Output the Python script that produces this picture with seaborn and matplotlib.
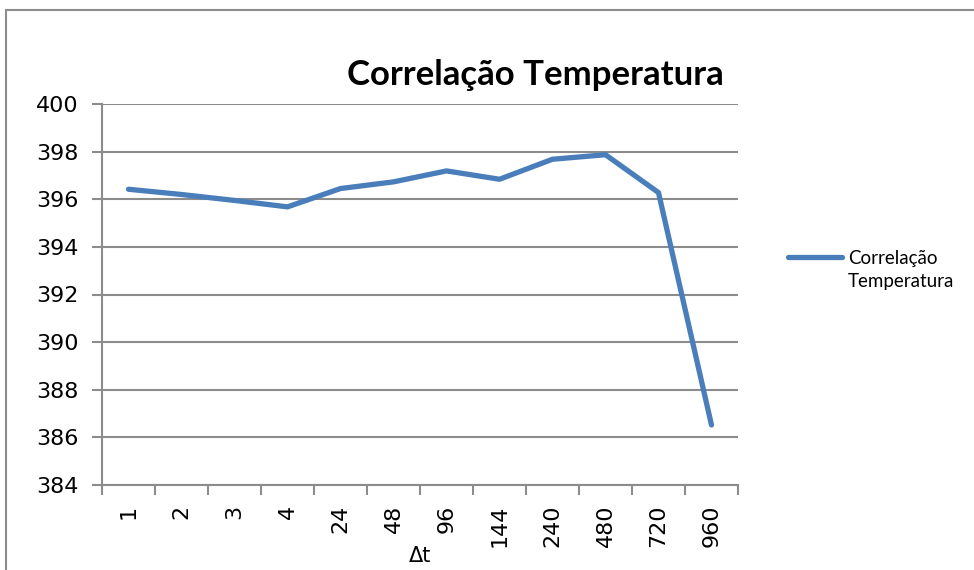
import numpy as np
import pandas as pd
import seaborn as sns
import matplotlib.pyplot as plt
from matplotlib.patches import Rectangle

# valores
delta_t = ["1", "2", "3", "4", "24", "48", "96", "144", "240", "480", "720", "960"]
correlacao = [396.42, 396.2, 395.95, 395.68, 396.45, 396.73, 397.19, 396.84,
              397.68, 397.87, 396.28, 386.52]
y_ticks = [384, 386, 388, 390, 392, 394, 396, 398, 400]

dados = pd.DataFrame({"dt": delta_t, "corr": correlacao})

sns.set_style("white")
plt.rcParams["font.family"] = ["DejaVu Sans"]
plt.rcParams["text.color"] = "black"
plt.rcParams["axes.labelcolor"] = "black"

fig = plt.figure(figsize=(9.74, 5.70), dpi=100)
ax = fig.add_axes([102 / 974, 1 - 485 / 570, 636 / 974, 381 / 570])

cor = "#4a7ebb"
cinza = "#8c8c8c"
sns.lineplot(data=dados, x="dt", y="corr", ax=ax, color=cor, linewidth=3.8,
             sort=False, label="Correlação\nTemperatura")

ax.set_xlim(-0.5, len(delta_t) - 0.5)
ax.set_ylim(384, 400)
ax.set_yticks(y_ticks)
ax.set_yticklabels([str(v) for v in y_ticks], fontsize=16)
ax.yaxis.grid(True, color=cinza, linewidth=1.5)
ax.set_axisbelow(True)

# ticks entre as categorias, rótulos no centro
ax.set_xticks(np.arange(-0.5, len(delta_t)), minor=False)
ax.set_xticklabels([])
ax.set_xticks(np.arange(len(delta_t)), minor=True)
ax.set_xticklabels(delta_t, minor=True, rotation=90, fontsize=16)
ax.tick_params(axis="x", which="major", length=7, width=1.5, color=cinza, direction="out", bottom=True)
ax.tick_params(axis="x", which="minor", length=0, pad=14, labelcolor="black")
ax.tick_params(axis="y", length=7, width=1.5, color=cinza, direction="out", left=True, pad=10,
               labelcolor="black")

for s in ["top", "right"]:
    ax.spines[s].set_visible(False)
for s in ["left", "bottom"]:
    ax.spines[s].set_color(cinza)
    ax.spines[s].set_linewidth(1.5)

ax.set_xlabel("Δt", fontsize=15, va="center")
ax.xaxis.set_label_coords((420 - 102) / 636, -(556 - 485) / 381)
ax.set_ylabel("")

fig.text(535 / 974, 1 - 75 / 570, "Correlação Temperatura", ha="center", va="center",
         fontsize=25, fontweight="bold", family="Lato", color="black")

leg = ax.legend(loc="center left", bbox_to_anchor=(780 / 974, 1 - 270 / 570),
                bbox_transform=fig.transFigure, frameon=False, handlelength=2.9,
                prop={"family": "Lato", "size": 13.5}, handletextpad=0.32,
                borderaxespad=0)
leg.get_texts()[0].set_linespacing(1.45)
leg.get_texts()[0].set_color("black")
# linha da legenda alinhada com a primeira linha do texto
h = leg.legend_handles[0]
h.set_ydata(np.asarray(h.get_ydata()) + 10)

# moldura do gráfico
fig.patches.append(Rectangle((6 / 974, -0.1), 1.2, 1.1 - 10 / 570, transform=fig.transFigure,
                             fill=False, edgecolor=cinza, linewidth=1.5))

fig.savefig("out.png", dpi=100)
